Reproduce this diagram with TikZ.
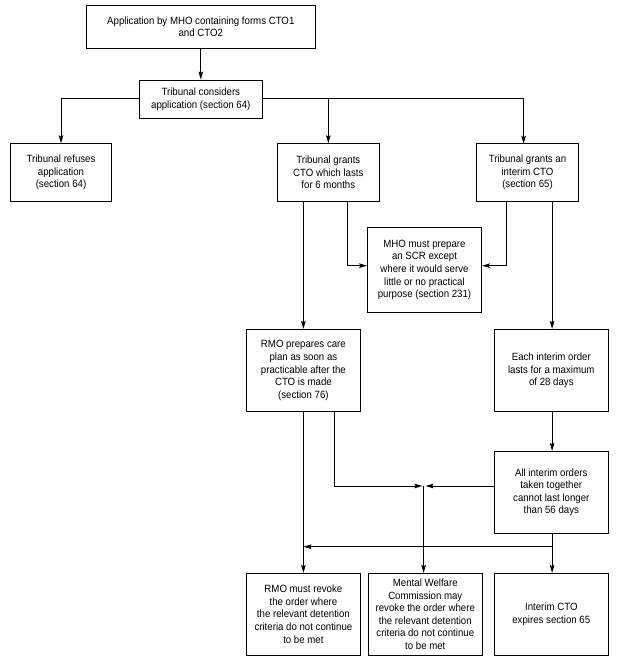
\documentclass[tikz,border=0pt]{standalone}
\usepackage{fontspec}
\setmainfont{Liberation Sans}[FakeStretch=0.92]
\usetikzlibrary{arrows.meta}
\begin{document}
\begin{tikzpicture}[x=1pt,y=-1pt,
  every node/.style={font=\fontsize{10.5}{12.6}\selectfont},
  box/.style={draw,line width=0.9pt,rectangle,align=center,inner sep=0pt,minimum width=#1},
  box/.default=114pt,
  conn/.style={line width=0.9pt},
  arr/.style={line width=0.9pt,-{Stealth[length=8pt,width=4.6pt,inset=1.5pt]}}
]
\useasboundingbox (0,0) rectangle (621,672);
\node[box=229pt,minimum height=43pt] (app) at (200.8,26.8) {Application by MHO containing forms CTO1\\and CTO2};
\node[box=123pt,minimum height=38pt] (cons) at (200.8,99) {Tribunal considers\\application (section 64)};
\node[box=101.4pt,minimum height=57.6pt] (ref) at (61,172.5) {Tribunal refuses\\application\\(section 64)};
\node[box=102.2pt,minimum height=57.6pt] (gra) at (328.3,172.5) {Tribunal grants\\CTO which lasts\\for 6 months};
\node[box=102.2pt,minimum height=57.6pt] (int) at (527.5,172.5) {Tribunal grants an\\interim CTO\\(section 65)};
\node[box=114pt,minimum height=84.6pt] (mho) at (424.5,270) {MHO must prepare\\an SCR except\\where it would serve\\little or no practical\\purpose (section 231)};
\node[box,minimum height=82.4pt] (rmo) at (303.4,370.5) {RMO prepares care\\plan as soon as\\practicable after the\\CTO is made\\(section 76)};
\node[box,minimum height=82.4pt] (each) at (551.3,370.5) {Each interim order\\lasts for a maximum\\of 28 days};
\node[box,minimum height=82pt] (all) at (551.3,492.3) {All interim orders\\taken together\\cannot last longer\\than 56 days};
\node[box,minimum height=81.7pt] (rev) at (303.4,614.2) {RMO must revoke\\the order where\\the relevant detention\\criteria do not continue\\to be met};
\node[box,minimum height=81.7pt] (mwc) at (425.3,614.2) {Mental Welfare\\Commission may\\revoke the order where\\the relevant detention\\criteria do not continue\\to be met};
\node[box,minimum height=81.7pt] (exp) at (551.3,614.2) {Interim CTO\\expires section 65};
% junction points
\coordinate (hl) at (0,98.5);
\coordinate (jm) at (423.6,486);
\coordinate (jl) at (334.3,486);
\coordinate (jb) at (552.1,546.7);
\coordinate (a1) at (347.7,265.7);
\coordinate (a2) at (506.5,265.7);
% connectors
\draw[arr] (app.south) -- (cons.north);
\draw[arr] (cons.west |- hl) -- (ref.north |- hl) -- (ref.north);
\draw[arr] (cons.east |- hl) -- (523.6,98.5) -- (523.6,143.7);
\draw[arr] (328.3,98.5) -- (gra.north);
\draw[arr] (rmo.north |- gra.south) -- (rmo.north);
\draw[arr] (a1 |- gra.south) -- (a1) -- (mho.west |- a1);
\draw[arr] (a2 |- int.south) -- (a2) -- (mho.east |- a2);
\draw[arr] (552.1,201.3) -- (each.north -| 552.1,0);
\draw[arr] (each.south -| 552.1,0) -- (all.north -| 552.1,0);
\draw[arr] (rmo.south) -- (rev.north);
\draw[arr] (jl |- rmo.south) -- (jl) -- ([xshift=-1.3pt]jm);
\draw[arr] (all.west |- jm) -- ([xshift=2pt]jm);
\draw[arr] (jm) -- (mwc.north -| jm);
\draw[arr] (all.south -| jb) -- (exp.north -| jb);
\draw[arr] (jb) -- (rev.north |- jb);
\end{tikzpicture}
\end{document}
